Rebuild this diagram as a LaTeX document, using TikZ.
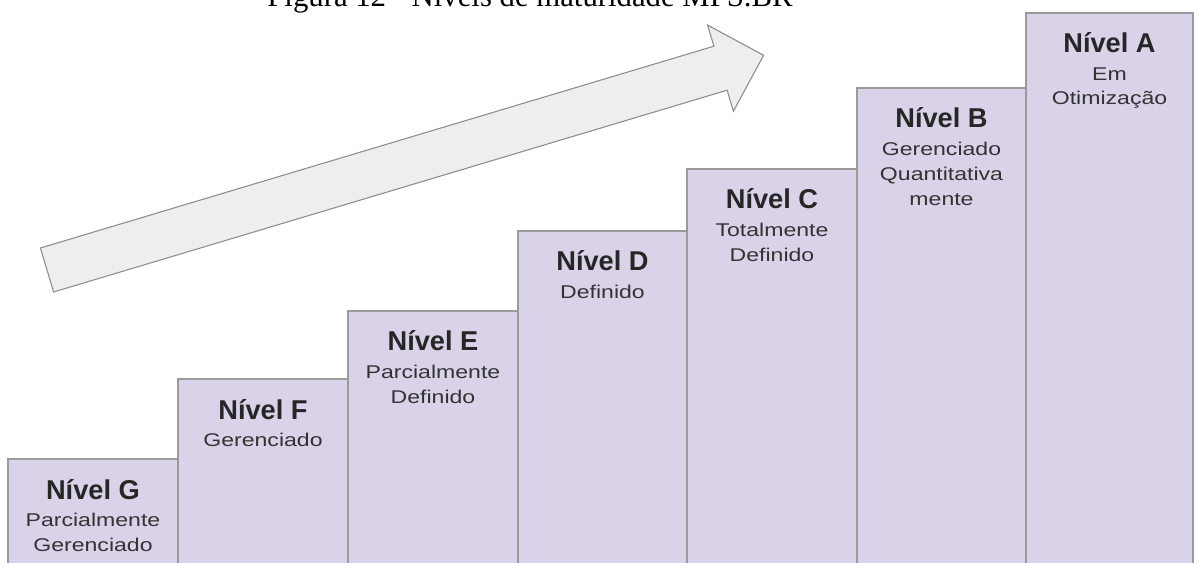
\documentclass[tikz,border=0pt]{standalone}
\usepackage{fontspec}
\setmainfont{Liberation Sans}
\newfontfamily\capfont{Liberation Serif}
\newfontfamily\subfont[FakeStretch=1.25]{Liberation Sans}
\usetikzlibrary{calc}

\definecolor{nivelfill}{HTML}{D9D2E9}
\definecolor{nivelline}{HTML}{9A9A9A}
\definecolor{setafill}{HTML}{EEEEEE}
\definecolor{setaline}{HTML}{8C8C8C}

\tikzset{
  degrau/.style={fill=nivelfill, draw=nivelline, line width=0.6pt},
  titulo/.style={anchor=base, inner sep=0pt, text=black!85,
    font=\fontsize{15.5}{18}\selectfont\bfseries},
  subtitulo/.style={anchor=north, align=center, inner sep=0pt, text=black!80,
    font=\subfont\fontsize{10.5}{14.2}\selectfont},
}

\begin{document}
\begin{tikzpicture}[x=0.02cm, y=-0.02cm, line join=miter]
        \useasboundingbox (0,0) rectangle (1195,563);

        % Legenda (afgesneden bovenaan)
        \node[anchor=base, inner sep=0pt, font=\capfont\fontsize{17.5}{20}\selectfont] (legenda) at (530,7) {Figura 12 - Níveis de maturidade MPS.BR};

        % Pijl (lichtgrijs)
        \coordinate (s1) at (40.4,248);
        \coordinate (s2) at (713.9,46.2);
        \coordinate (s3) at (707.6,25.1);
        \coordinate (s4) at (763.6,55.3);
        \coordinate (s5) at (733.4,111.3);
        \coordinate (s6) at (727.1,90.2);
        \coordinate (s7) at (53.6,292);
        \draw[fill=setafill, draw=setaline, line width=0.6pt] (s1) -- (s2) -- (s3) -- (s4) -- (s5) -- (s6) -- (s7) -- cycle;

        % Treden
        \foreach \id/\xl/\xr/\yt/\nome/\desc in {
            g/8/178/459/G/{Parcialmente\\Gerenciado},
            f/178/348/379/F/{Gerenciado},
            e/348/518/311/E/{Parcialmente\\Definido},
            d/518/687/231/D/{Definido},
            c/687/857/169/C/{Totalmente\\Definido},
            b/857/1026/88/B/{Gerenciado\\Quantitativa\\mente},
            a/1026/1193/13/A/{Em\\Otimização}}{
          \draw[degrau] (\xl,575) rectangle (\xr,\yt);
          \node[titulo] (\id) at ({(\xl+\xr)/2},\yt+40) {Nível \nome};
          \node[subtitulo] (\id-sub) at ({(\xl+\xr)/2},\yt+54) {\desc};
        }
\end{tikzpicture}
\end{document}
